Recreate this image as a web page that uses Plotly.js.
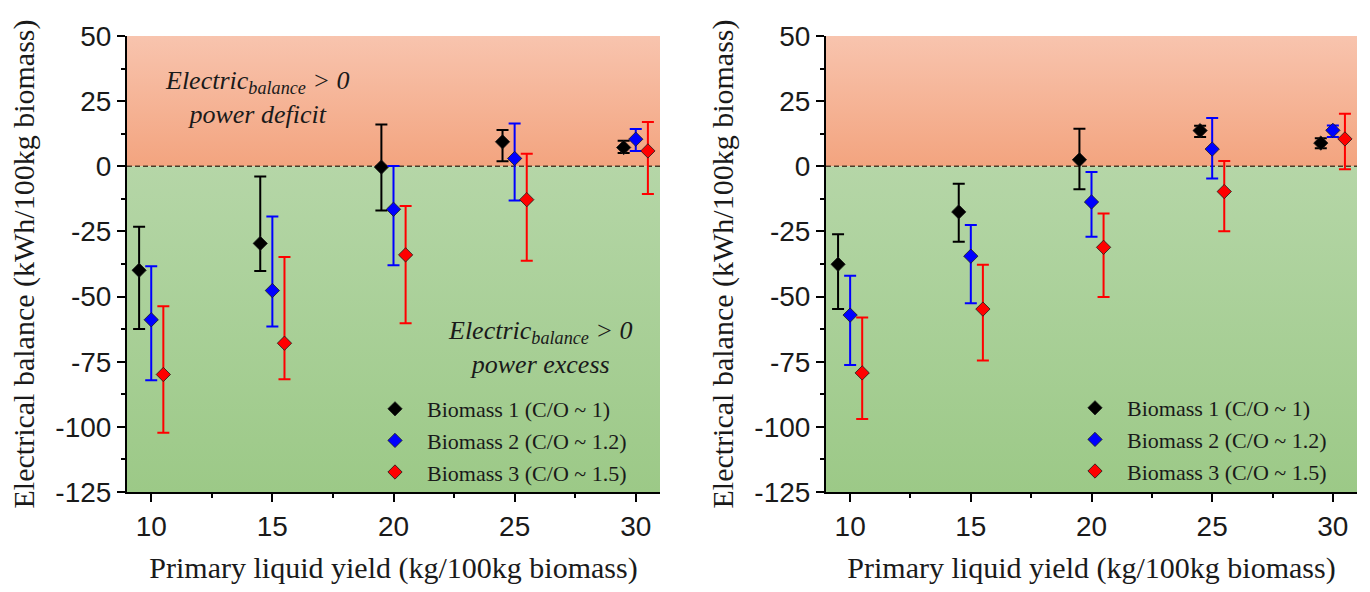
<!DOCTYPE html>
<html>
<head>
<meta charset="utf-8">
<script src="https://cdn.plot.ly/plotly-3.0.1.min.js"></script>
<style>
html,body{margin:0;padding:0;background:#ffffff;}
#chart{width:1370px;height:592px;}
</style>
</head>
<body>
<div id="chart"></div>
<script>
// ---------------- DATA ----------------
const yields = [10, 15, 20, 25, 30];
const seriesNames = ["Biomass 1 (C/O ~ 1)", "Biomass 2 (C/O ~ 1.2)", "Biomass 3 (C/O ~ 1.5)"];
const xTickVals = [10, 15, 20, 25, 30];
const xTickText = ["10", "15", "20", "25", "30"];
const yTickVals = [50, 25, 0, -25, -50, -75, -100, -125];
const yTickText = ["50", "25", "0", "-25", "-50", "-75", "-100", "-125"];

// Left panel
const leftB1 = [-39.9, -29.6, -0.3, 9.4, 7.2];
const leftB1Plus = [16.7, 25.7, 16.3, 4.5, 2.6];
const leftB1Minus = [22.5, 10.6, 16.7, 7.5, 2.1];
const leftB2 = [-58.9, -47.7, -16.5, 3.0, 10.4];
const leftB2Plus = [20.5, 28.4, 16.6, 13.4, 3.9];
const leftB2Minus = [23.2, 13.8, 21.5, 16.1, 4.5];
const leftB3 = [-79.9, -67.9, -34.0, -12.8, 5.9];
const leftB3Plus = [26.2, 33.1, 18.8, 17.6, 11.1];
const leftB3Minus = [22.4, 13.8, 26.2, 23.5, 16.5];

// Right panel
const rightB1 = [-37.6, -17.5, 2.5, 13.7, 8.9];
const rightB1Plus = [11.5, 10.8, 11.9, 1.9, 1.9];
const rightB1Minus = [17.2, 11.5, 11.3, 2.5, 2.0];
const rightB2 = [-57.1, -34.5, -13.7, 6.6, 13.8];
const rightB2Plus = [15.1, 12.0, 11.5, 11.9, 1.9];
const rightB2Minus = [19.2, 18.1, 13.3, 11.3, 2.6];
const rightB3 = [-79.3, -54.8, -31.1, -9.7, 10.5];
const rightB3Plus = [21.3, 17.0, 13.0, 11.7, 9.7];
const rightB3Minus = [17.7, 19.7, 19.1, 15.2, 11.6];

// ---------------- STYLE ----------------
const X_RANGE = [9, 31];
const Y_RANGE = [-125, 50];
const DODGE = [-0.5, 0, 0.5];
const COLORS = ["#000000", "#0000ff", "#ff0000"];
const SERIF = "'Liberation Serif', 'Times New Roman', serif";
const SANS = "'Liberation Sans', Arial, sans-serif";
const W = 1370, H = 592, MT = 36, MB = 100;
const px = v => v / W;
const py = v => (H - MB - v) / (H - MT - MB);

function background(xa, ya) {
  const xs = [X_RANGE[0], X_RANGE[1], X_RANGE[1], X_RANGE[0], X_RANGE[0]];
  return [
    {x: xs, y: [0, 0, Y_RANGE[1], Y_RANGE[1], 0], xaxis: xa, yaxis: ya, mode: "none",
     fill: "toself", fillgradient: {type: "vertical", colorscale: [[0, "#f3a47f"], [1, "#f8c4ae"]]},
     showlegend: false, hoverinfo: "skip"},
    {x: xs, y: [Y_RANGE[0], Y_RANGE[0], 0, 0, Y_RANGE[0]], xaxis: xa, yaxis: ya, mode: "none",
     fill: "toself", fillgradient: {type: "vertical", colorscale: [[0, "#9cc987"], [1, "#b5d6a7"]]},
     showlegend: false, hoverinfo: "skip"},
    {x: [X_RANGE[0], X_RANGE[1]], y: [0, 0], xaxis: xa, yaxis: ya, mode: "lines",
     line: {color: "#4a3c28", width: 1.5, dash: "5px,3px"}, showlegend: false, hoverinfo: "skip"}
  ];
}

function series(vals, plus, minus, i, xa, ya, legend) {
  return {
    x: yields.map(v => v + DODGE[i]), y: vals,
    xaxis: xa, yaxis: ya, legend: legend,
    type: "scatter", mode: "markers", name: seriesNames[i],
    marker: {symbol: "diamond", size: 11, color: COLORS[i], line: {color: "#1a1a1a", width: 0.8}},
    error_y: {type: "data", symmetric: false, array: plus, arrayminus: minus,
              color: COLORS[i], thickness: 2, width: 6}
  };
}

const data = [].concat(
  background("x", "y"),
  background("x2", "y2"),
  [
    series(leftB1, leftB1Plus, leftB1Minus, 0, "x", "y", "legend"),
    series(leftB2, leftB2Plus, leftB2Minus, 1, "x", "y", "legend"),
    series(leftB3, leftB3Plus, leftB3Minus, 2, "x", "y", "legend"),
    series(rightB1, rightB1Plus, rightB1Minus, 0, "x2", "y2", "legend2"),
    series(rightB2, rightB2Plus, rightB2Minus, 1, "x2", "y2", "legend2"),
    series(rightB3, rightB3Plus, rightB3Minus, 2, "x2", "y2", "legend2")
  ]
);

function xAxis(domain, anchor) {
  return {
    domain: domain, anchor: anchor, range: X_RANGE, tickvals: xTickVals, ticktext: xTickText,
    ticks: "outside", ticklen: 8, tickwidth: 2, tickcolor: "#000",
    minor: {dtick: 2.5, tick0: 10, ticks: "outside", ticklen: 4, tickwidth: 2, tickcolor: "#000"},
    showline: true, linecolor: "#000", linewidth: 2, showgrid: false, zeroline: false,
    tickfont: {family: SANS, size: 28, color: "#1a1a1a"},
    title: {text: "Primary liquid yield (kg/100kg biomass)", font: {family: SERIF, size: 30, color: "#1a1a1a"}, standoff: 16}
  };
}
function yAxis(anchor) {
  return {
    domain: [0, 1], anchor: anchor, range: Y_RANGE, tickvals: yTickVals, ticktext: yTickText,
    ticks: "outside", ticklen: 8, tickwidth: 2, tickcolor: "#000",
    minor: {dtick: 12.5, tick0: 0, ticks: "outside", ticklen: 4, tickwidth: 2, tickcolor: "#000"},
    showline: true, linecolor: "#000", linewidth: 2, showgrid: false, zeroline: false,
    tickfont: {family: SANS, size: 28, color: "#1a1a1a"},
    title: {text: "Electrical balance (kWh/100kg biomass)", font: {family: SERIF, size: 30, color: "#1a1a1a"}, standoff: 12}
  };
}
function xMirror(over, anchor) {
  return {
    overlaying: over, anchor: anchor, side: "top", range: X_RANGE, tickvals: xTickVals,
    ticks: "inside", ticklen: 8, tickwidth: 2, tickcolor: "#000",
    minor: {dtick: 2.5, tick0: 10, ticks: "inside", ticklen: 4, tickwidth: 2, tickcolor: "#000"},
    showline: true, linecolor: "#000", linewidth: 2, showgrid: false, zeroline: false,
    showticklabels: false
  };
}
function yMirror(over, anchor) {
  return {
    overlaying: over, anchor: anchor, side: "right", range: Y_RANGE, tickvals: yTickVals,
    ticks: "inside", ticklen: 8, tickwidth: 2, tickcolor: "#000",
    minor: {dtick: 12.5, tick0: 0, ticks: "inside", ticklen: 4, tickwidth: 2, tickcolor: "#000"},
    showline: true, linecolor: "#000", linewidth: 2, showgrid: false, zeroline: false,
    showticklabels: false
  };
}

const legendStyle = {
  xanchor: "left", yanchor: "top", bgcolor: "rgba(0,0,0,0)", borderwidth: 0,
  font: {family: SERIF, size: 22, color: "#1a1a1a"}, itemwidth: 54, tracegroupgap: 0
};

const layout = {
  width: W, height: H,
  margin: {l: 0, r: 0, t: MT, b: MB, pad: 0},
  paper_bgcolor: "#ffffff", plot_bgcolor: "rgba(0,0,0,0)",
  showlegend: true,
  xaxis: xAxis([px(127), px(660)], "y"),
  yaxis: yAxis("x"),
  xaxis2: xAxis([px(826), px(1357)], "y2"),
  yaxis2: yAxis("x2"),
  xaxis3: xMirror("x", "y"),
  yaxis3: yMirror("y", "x"),
  xaxis4: xMirror("x2", "y2"),
  yaxis4: yMirror("y2", "x2"),
  legend: Object.assign({x: px(363), y: py(388)}, legendStyle),
  legend2: Object.assign({x: px(1063), y: py(387)}, legendStyle),
  annotations: [
    {xref: "paper", yref: "paper", x: px(257), y: py(97), xanchor: "center", yanchor: "middle", showarrow: false,
     text: "<i>Electric<sub>balance</sub> > 0</i><br><i>power deficit</i>",
     font: {family: SERIF, size: 26, color: "#1a1a1a"}, align: "center"},
    {xref: "paper", yref: "paper", x: px(540), y: py(347), xanchor: "center", yanchor: "middle", showarrow: false,
     text: "<i>Electric<sub>balance</sub> > 0</i><br><i>power excess</i>",
     font: {family: SERIF, size: 26, color: "#1a1a1a"}, align: "center"}
  ]
};

Plotly.newPlot("chart", data, layout, {displayModeBar: false, responsive: false});
</script>
</body>
</html>
